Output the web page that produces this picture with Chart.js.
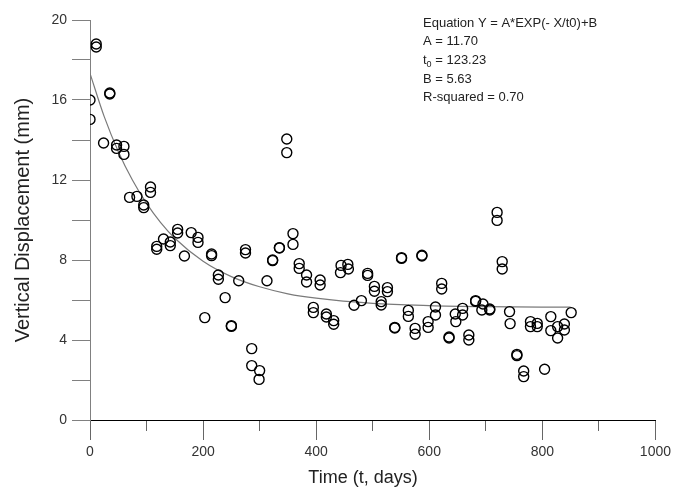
<!DOCTYPE html>
<html>
<head>
<meta charset="utf-8">
<script src="https://cdn.jsdelivr.net/npm/chart.js@4.4.1/dist/chart.umd.min.js"></script>
<style>
  html, body { margin: 0; padding: 0; background: #fff; }
</style>
</head>
<body>
<canvas id="chart" width="675" height="494"></canvas>
<script>
// measured points (t in days, vertical displacement in mm)
const days = [
  0, 0, 11, 11, 35, 35, 24, 47, 47, 60, 60, 107, 107, 70, 83, 95, 95,
  118, 118, 130, 142, 142, 155, 155, 167, 179, 191, 191, 203, 215, 215, 227, 227,
  239, 250, 250, 263, 275, 275, 286, 286, 300, 299,
  313, 323, 323, 335, 335, 348, 348, 359, 359, 370, 370, 383, 383, 395, 395,
  407, 407, 418, 418, 431, 431, 444, 443, 456, 457,
  467, 480, 491, 491, 503, 503, 515, 515, 526, 526, 539, 539, 551, 551,
  563, 563, 575, 575, 587, 587, 598, 598, 611, 611, 622, 622, 635, 635,
  646, 647, 659, 659, 670, 670, 682, 682, 695, 693, 707, 707,
  720, 720, 729, 729, 742, 743, 755, 755, 767, 767, 779, 779, 791, 791,
  804, 815, 815, 827, 827, 839, 839, 851
];
const displacement = [
  16.0, 15.03, 18.8, 18.65, 16.35, 16.3, 13.85, 13.75, 13.58, 13.68, 13.28, 11.65, 11.38, 11.13, 11.18, 10.75, 10.62,
  8.68, 8.54, 9.05, 8.9, 8.72, 9.53, 9.35, 8.2, 9.37, 9.13, 8.88, 5.12, 8.3, 8.22, 7.25, 7.04,
  6.12, 4.72, 4.68, 6.96, 8.52, 8.35, 3.57, 2.72, 2.47, 2.03,
  6.96, 8.0, 7.97, 8.62, 8.6, 14.05, 13.37, 9.32, 8.78, 7.82, 7.58, 7.25, 6.9, 5.63, 5.37,
  7.0, 6.75, 5.3, 5.15, 4.97, 4.79, 7.73, 7.37, 7.78, 7.55,
  5.74, 5.97, 7.33, 7.23, 6.68, 6.44, 5.92, 5.75, 6.62, 6.42, 4.63, 4.6, 8.12, 8.08,
  5.48, 5.18, 4.58, 4.29, 8.24, 8.2, 4.92, 4.63, 5.65, 5.25, 6.83, 6.55, 4.15, 4.1,
  5.3, 4.92, 5.58, 5.25, 4.25, 4.0, 5.97, 5.93, 5.8, 5.5, 5.55, 5.5,
  10.38, 9.98, 7.92, 7.55, 5.42, 4.82, 3.28, 3.22, 2.45, 2.17, 4.92, 4.67, 4.83, 4.67,
  2.54, 5.17, 4.47, 4.67, 4.1, 4.8, 4.5, 5.37
];

// fitted curve
const curveDays = [0, 25, 50, 75, 100, 125, 150, 200, 250, 300, 350, 400, 500, 600, 700, 850];
const curveValues = [17.33, 15.18, 13.43, 12.0, 10.83, 9.87, 9.09, 7.94, 7.17, 6.66, 6.31, 6.09, 5.83, 5.72, 5.67, 5.64];

// fit parameters printed in the corner
const fitA = "11.70";
const fitT0 = "123.23";
const fitB = "5.63";
const rSquared = "0.70";

const xTicks = [0, 200, 400, 600, 800, 1000];
const yTicks = [0, 4, 8, 12, 16, 20];

const FONT = '"Liberation Sans", Arial, sans-serif';

// equation box in the top right + x axis title (sits a bit left of centre)
const fitLabel = {
  id: "fitLabel",
  afterDraw(chart) {
    const ctx = chart.ctx;
    const left = chart.chartArea.left + 333;
    const top = chart.chartArea.top + 3;
    const step = 18.7;
    ctx.save();
    ctx.fillStyle = "#222";
    ctx.textBaseline = "middle";
    ctx.font = "13px " + FONT;
    ctx.fillText("Equation Y = A*EXP(- X/t0)+B", left, top);
    ctx.fillText("A = " + fitA, left, top + step);
    // t0 with subscript
    ctx.fillText("t", left, top + step * 2);
    let w = ctx.measureText("t").width;
    ctx.font = "9px " + FONT;
    ctx.fillText("0", left + w, top + step * 2 + 4);
    w += ctx.measureText("0").width;
    ctx.font = "13px " + FONT;
    ctx.fillText(" = " + fitT0, left + w, top + step * 2);
    ctx.fillText("B = " + fitB, left, top + step * 3);
    ctx.fillText("R-squared = " + rSquared, left, top + step * 4);

    ctx.font = "18px " + FONT;
    ctx.textAlign = "center";
    ctx.fillText("Time (t, days)", chart.chartArea.left + 273, chart.height - 16);
    ctx.restore();
  }
};

const ctx = document.getElementById("chart").getContext("2d");

new Chart(ctx, {
  data: {
    datasets: [
      {
        type: "line",
        data: curveDays.map((d, i) => ({ x: d, y: curveValues[i] })),
        borderColor: "#7a7a7a",
        borderWidth: 1.2,
        pointRadius: 0,
        cubicInterpolationMode: "monotone",
        fill: false,
        order: 2,
      },
      {
        type: "scatter",
        data: days.map((d, i) => ({ x: d, y: displacement[i] })),
        pointStyle: "circle",
        pointRadius: 5,
        borderWidth: 1.4,
        borderColor: "#000",
        backgroundColor: "rgba(0,0,0,0)",
        order: 1,
      },
    ],
  },
  options: {
    responsive: false,
    animation: false,
    layout: { padding: { top: 20, right: 18, left: 0, bottom: 0 } },
    plugins: {
      legend: { display: false },
      tooltip: { enabled: false },
    },
    scales: {
      x: {
        type: "linear",
        position: "bottom",
        min: 0,
        max: 1000,
        afterFit: (s) => { s.height = 74; },
        ticks: {
          stepSize: 100,
          autoSkip: false,
          maxRotation: 0,
          padding: 4,
          color: "#333",
          font: { size: 14, family: FONT },
          callback: (v) => (xTicks.includes(v) ? v : ""),
        },
        grid: {
          drawOnChartArea: false,
          drawTicks: true,
          tickLength: 20,
          tickColor: "#666",
          tickWidth: 1,
          // minor ticks only half as long
          tickBorderDash: (c) => (c.tick && !xTicks.includes(c.tick.value) ? [10, 40] : []),
        },
        border: { color: "#000", width: 1 },
        title: { display: false },
      },
      y: {
        type: "linear",
        min: 0,
        max: 20,
        afterFit: (s) => { s.width = 90; },
        ticks: {
          stepSize: 2,
          autoSkip: false,
          padding: 5,
          color: "#333",
          font: { size: 14, family: FONT },
          callback: (v) => (yTicks.includes(v) ? v : ""),
        },
        grid: {
          drawOnChartArea: false,
          drawTicks: true,
          tickLength: 18,
          tickColor: "#808080",
          tickWidth: 1,
        },
        border: { color: "#808080", width: 1 },
        title: {
          display: true,
          text: "Vertical Displacement (mm)",
          color: "#222",
          font: { size: 20, family: FONT },
          padding: { top: 11, bottom: 0 },
        },
      },
    },
  },
  plugins: [fitLabel],
});
</script>
</body>
</html>
